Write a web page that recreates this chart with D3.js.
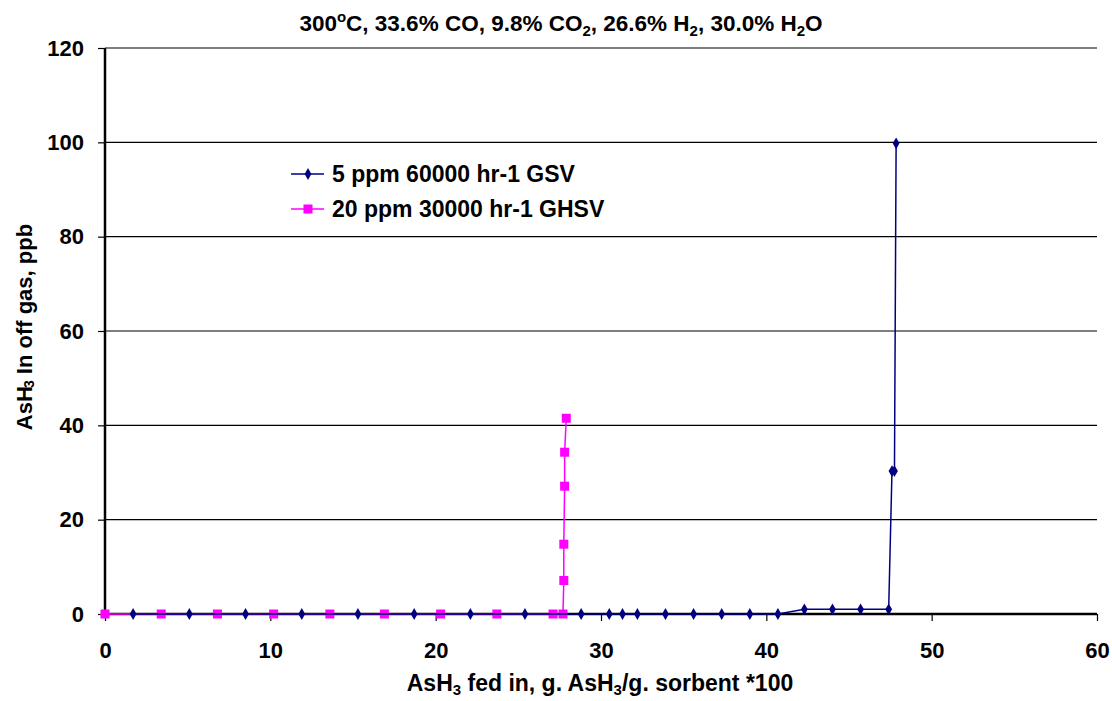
<!DOCTYPE html>
<html><head><meta charset="utf-8">
<script src="https://cdn.jsdelivr.net/npm/d3@7"></script>
<style>body{margin:0;background:#fff}svg{display:block;font-family:Arial,"Liberation Sans",sans-serif;font-weight:bold}</style>
</head><body>
<svg id="c" width="1112" height="701"></svg>
<script>
const blueX = [1.7, 5.1, 8.5, 11.9, 15.3, 18.7, 22.1, 25.4, 28.8, 30.5, 31.3, 32.2, 33.9, 35.6, 37.3, 39.0, 40.7, 42.3, 44.0, 45.7, 47.4, 47.6, 47.75, 47.85];
const blueY = [0, 0, 0, 0, 0, 0, 0, 0, 0, 0, 0, 0, 0, 0, 0, 0, 0, 1.0, 1.0, 1.0, 1.0, 30.3, 30.3, 99.8];
const pinkX = [0, 3.4, 6.8, 10.2, 13.6, 16.9, 20.3, 23.7, 27.1, 27.7, 27.75, 27.75, 27.8, 27.8, 27.9];
const pinkY = [0, 0, 0, 0, 0, 0, 0, 0, 0, 0, 7.1, 14.8, 27.1, 34.3, 41.5];
const xTicks = [0, 10, 20, 30, 40, 50, 60];
const yTicks = [0, 20, 40, 60, 80, 100, 120];
const seriesNames = ["5 ppm 60000 hr-1 GSV", "20 ppm 30000 hr-1 GHSV"];
const seriesColors = ["#000080", "#FF00FF"];

const svg = d3.select("#c");
const L = 105, R = 1097, T = 48, B = 614;
const x = d3.scaleLinear().domain([0, 60]).range([L, R]);
const y = d3.scaleLinear().domain([0, 120]).range([B, T]);

// gridlines
svg.append("g").selectAll("line").data(yTicks.filter(d => d > 0)).join("line")
  .attr("x1", L).attr("x2", R).attr("y1", d => y(d)).attr("y2", d => y(d))
  .attr("stroke", "#000").attr("stroke-width", 1.2);

// axes
const xa = svg.append("g").attr("transform", `translate(0,${B})`)
  .call(d3.axisBottom(x).tickValues(xTicks).tickSize(7).tickPadding(21).tickFormat(d3.format("d")));
const ya = svg.append("g").attr("transform", `translate(${L},0)`)
  .call(d3.axisLeft(y).tickValues(yTicks).tickSize(7).tickPadding(14).tickFormat(d3.format("d")));
[xa, ya].forEach(a => {
  a.select(".domain").attr("stroke", "#000").attr("stroke-width", 2.5);
  a.selectAll(".tick line").attr("stroke", "#000").attr("stroke-width", 1.2);
  a.selectAll("text").attr("font-size", 22).attr("font-weight", "bold").attr("fill", "#000")
   .attr("font-family", "Arial, 'Liberation Sans', sans-serif");
});
xa.select(".domain").attr("d", `M${L},0H${R}`);
ya.select(".domain").attr("d", `M0,${B}V${T}`);

const line = d3.line().x(d => x(d[0])).y(d => y(d[1]));
const blue = blueX.map((v, i) => [v, blueY[i]]);
const pink = pinkX.map((v, i) => [v, pinkY[i]]);

function diamond(g, pts, color) {
  g.selectAll("path.m").data(pts).join("path").attr("class", "m")
    .attr("d", d3.symbol(d3.symbolDiamond, 40)())
    .attr("transform", d => `translate(${x(d[0])},${y(d[1])})`)
    .attr("fill", color);
}
function square(g, pts, color) {
  g.selectAll("rect.m").data(pts).join("rect").attr("class", "m")
    .attr("x", d => x(d[0]) - 4.5).attr("y", d => y(d[1]) - 4.5)
    .attr("width", 9).attr("height", 9).attr("fill", color);
}

const gp = svg.append("g");
gp.append("path").datum(pink).attr("d", line).attr("fill", "none").attr("stroke", seriesColors[1]).attr("stroke-width", 1.5);
square(gp, pink, seriesColors[1]);
const gb = svg.append("g");
gb.append("path").datum(blue).attr("d", line).attr("fill", "none").attr("stroke", seriesColors[0]).attr("stroke-width", 1.5);
diamond(gb, blue, seriesColors[0]);

// legend
const lg = svg.append("g");
seriesNames.forEach((n, i) => {
  const yy = 174 + i * 35;
  lg.append("line").attr("x1", 291).attr("x2", 324).attr("y1", yy).attr("y2", yy)
    .attr("stroke", seriesColors[i]).attr("stroke-width", 1.5);
  if (i === 0) lg.append("path").attr("d", d3.symbol(d3.symbolDiamond, 40)()).attr("transform", `translate(308,${yy})`).attr("fill", seriesColors[i]);
  else lg.append("rect").attr("x", 303.5).attr("y", yy - 4.5).attr("width", 9).attr("height", 9).attr("fill", seriesColors[i]);
  lg.append("text").attr("x", 332).attr("y", yy + 8).attr("font-size", 23).text(n);
});

// title
const t = svg.append("text").attr("x", 561).attr("y", 31).attr("text-anchor", "middle").attr("font-size", 22.5);
t.append("tspan").text("300");
t.append("tspan").attr("dy", -9).attr("font-size", 15).text("o");
t.append("tspan").attr("dy", 9).text("C, 33.6% CO, 9.8% CO");
t.append("tspan").attr("dy", 5).attr("font-size", 15).text("2");
t.append("tspan").attr("dy", -5).text(", 26.6% H");
t.append("tspan").attr("dy", 5).attr("font-size", 15).text("2");
t.append("tspan").attr("dy", -5).text(", 30.0% H");
t.append("tspan").attr("dy", 5).attr("font-size", 15).text("2");
t.append("tspan").attr("dy", -5).text("O");

// x label
const xl = svg.append("text").attr("x", 600).attr("y", 691).attr("text-anchor", "middle").attr("font-size", 23);
xl.append("tspan").text("AsH");
xl.append("tspan").attr("dy", 4).attr("font-size", 15).text("3");
xl.append("tspan").attr("dy", -4).text(" fed in, g. AsH");
xl.append("tspan").attr("dy", 4).attr("font-size", 15).text("3");
xl.append("tspan").attr("dy", -4).text("/g. sorbent *100");

// y label
const yl = svg.append("text").attr("transform", "translate(32,327) rotate(-90)").attr("text-anchor", "middle").attr("font-size", 22);
yl.append("tspan").text("AsH");
yl.append("tspan").attr("font-size", 14).attr("dy", 2).attr("dx", -2).text("3");
yl.append("tspan").attr("dy", -2).text(" In off gas, ppb");
</script>
</body></html>
